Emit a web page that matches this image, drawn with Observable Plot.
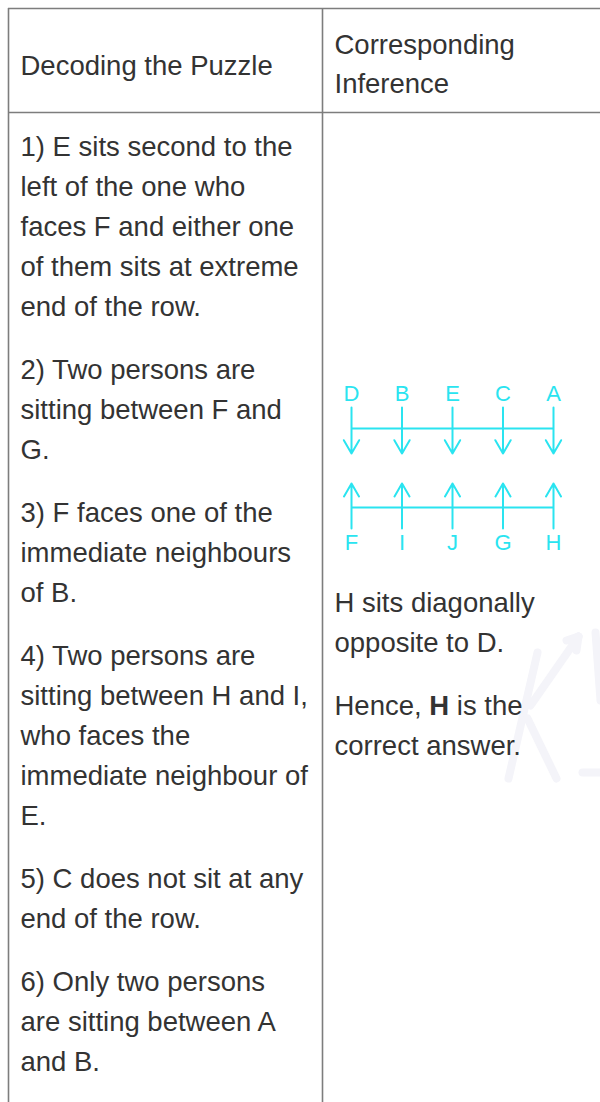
<!DOCTYPE html>
<html><head><meta charset="utf-8">
<script src="https://cdn.jsdelivr.net/npm/d3@7"></script>
<script src="https://cdn.jsdelivr.net/npm/@observablehq/plot@0.6"></script>
<style>html,body{margin:0;padding:0;background:#fff}</style>
</head><body><div id="chart"></div>
<script>
// ---- data ----
const headerLeft = ["Decoding the Puzzle"];
const headerRight = ["Corresponding", "Inference"];
const clues = [
  ["1) E sits second to the", "left of the one who", "faces F and either one", "of them sits at extreme", "end of the row."],
  ["2) Two persons are", "sitting between F and", "G."],
  ["3) F faces one of the", "immediate neighbours", "of B."],
  ["4) Two persons are", "sitting between H and I,", "who faces the", "immediate neighbour of", "E."],
  ["5) C does not sit at any", "end of the row."],
  ["6) Only two persons", "are sitting between A", "and B."]
];
const topRow = ["D", "B", "E", "C", "A"];      // facing south
const bottomRow = ["F", "I", "J", "G", "H"];   // facing north
const inference = ["H sits diagonally", "opposite to D."];
const conclusionPre = "Hence, ";
const conclusionAnswer = "H";
const conclusionPost = " is the";
const conclusionLine2 = "correct answer.";

// ---- layout ----
const W = 600, H = 1102;
const FS = 27.5, LH = 40, PG = 23;
const FONT = "'Liberation Sans', Arial, Helvetica, sans-serif";
const TEXT = "#333333", BORDER = "#7d7d7d", CYAN = "#2ae4f0";
const colL = 8, colM = 322, tableTop = 8, headSep = 112;
const padL = 20, padR = 334;

const measure = (() => {
  const ctx = document.createElement("canvas").getContext("2d");
  return (s, bold) => {
    ctx.font = `${bold ? "bold " : ""}${FS}px ${FONT}`;
    return ctx.measureText(s).width;
  };
})();

const rows = [];
headerLeft.forEach((t, i) => rows.push({t, x: padL, y: 66 + i * LH, bold: false}));
headerRight.forEach((t, i) => rows.push({t, x: padR, y: 45 + i * 38.5, bold: false}));
let yl = 147;
clues.forEach(p => {
  p.forEach((t, i) => rows.push({t, x: padL, y: yl + i * LH, bold: false}));
  yl += p.length * LH + PG;
});
let yr = 603;
inference.forEach((t, i) => rows.push({t, x: padR, y: yr + i * LH, bold: false}));
yr += inference.length * LH + PG;
const wPre = measure(conclusionPre, false);
const wAns = measure(conclusionAnswer, true);
rows.push({t: conclusionPre, x: padR, y: yr, bold: false});
rows.push({t: conclusionAnswer, x: padR + wPre, y: yr, bold: true});
rows.push({t: conclusionPost, x: padR + wPre + wAns, y: yr, bold: false});
rows.push({t: conclusionLine2, x: padR, y: yr + LH, bold: false});

const seatX0 = 351, seatStep = 50.5;
const seatsTop = topRow.map((s, i) => ({s, x: seatX0 + i * seatStep}));
const seatsBottom = bottomRow.map((s, i) => ({s, x: seatX0 + i * seatStep}));
const rowEnds = [seatX0, seatX0 + (topRow.length - 1) * seatStep];

// faint watermark strokes
const watermark = [
  {x1: 537, y1: 652, x2: 508, y2: 778},
  {x1: 530, y1: 705, x2: 578, y2: 636},
  {x1: 578, y1: 636, x2: 566, y2: 640},
  {x1: 578, y1: 636, x2: 576, y2: 650},
  {x1: 527, y1: 718, x2: 556, y2: 778},
  {x1: 582, y1: 772, x2: 600, y2: 772},
  {x1: 595, y1: 632, x2: 600, y2: 700}
];

const chart = Plot.plot({
  width: W, height: H, margin: 0,
  x: {domain: [0, W], range: [0, W], axis: null},
  y: {domain: [0, H], range: [0, H], axis: null},
  style: {fontFamily: FONT, background: "#fff"},
  marks: [
    Plot.link(watermark, {x1: "x1", y1: "y1", x2: "x2", y2: "y2", stroke: "#f4f4f9", strokeWidth: 8, strokeLinecap: "round"}),
    Plot.ruleX([colL, colM], {y1: tableTop, y2: H + 5, stroke: BORDER, strokeWidth: 1.6}),
    Plot.ruleY([tableTop, headSep], {x1: colL, x2: W + 5, stroke: BORDER, strokeWidth: 1.6}),
    Plot.text(rows.filter(d => !d.bold), {x: "x", y: "y", text: "t", textAnchor: "start", fontSize: FS, fill: TEXT}),
    Plot.text(rows.filter(d => d.bold), {x: "x", y: "y", text: "t", textAnchor: "start", fontSize: FS, fontWeight: "bold", fill: TEXT}),
    // seating diagram
    Plot.ruleY([428, 507], {x1: rowEnds[0], x2: rowEnds[1], stroke: CYAN, strokeWidth: 2}),
    Plot.arrow(seatsTop, {x1: "x", x2: "x", y1: 407, y2: 453, stroke: CYAN, strokeWidth: 2, headLength: 14, headAngle: 60}),
    Plot.arrow(seatsBottom, {x1: "x", x2: "x", y1: 528, y2: 483, stroke: CYAN, strokeWidth: 2, headLength: 14, headAngle: 60}),
    Plot.text(seatsTop, {x: "x", y: 393, text: "s", fontSize: 22, fill: CYAN}),
    Plot.text(seatsBottom, {x: "x", y: 542, text: "s", fontSize: 22, fill: CYAN})
  ]
});
document.getElementById("chart").appendChild(chart);
</script>
</body></html>
